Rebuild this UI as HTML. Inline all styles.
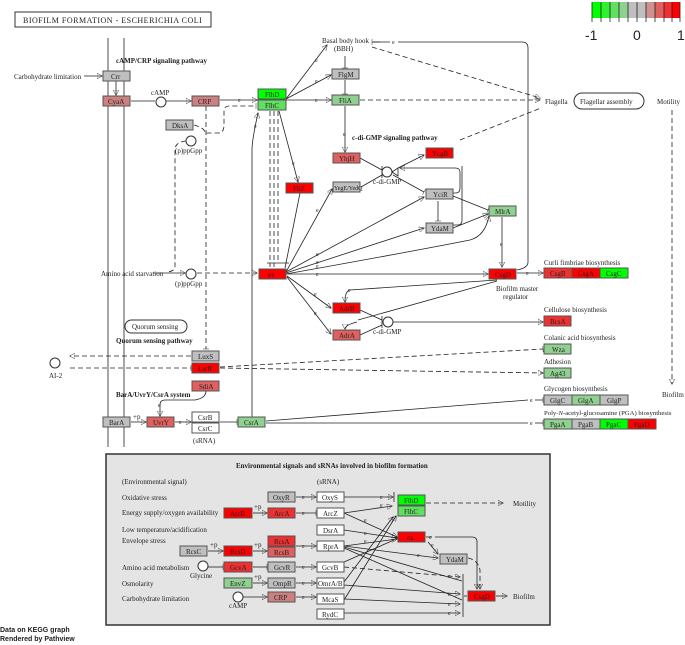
<!DOCTYPE html>
<html><head><meta charset="utf-8"><style>
html,body{margin:0;padding:0;background:#fff;}
svg{display:block;}
text{font-family:"Liberation Serif",serif;font-size:7px;fill:#222;}
.b{font-weight:bold;}
.s{font-family:"Liberation Sans",sans-serif;}
rect.n{stroke:#555;stroke-width:1;}
line,path,polyline{fill:none;stroke:#222;stroke-width:0.8;}
.d{stroke-dasharray:5,3;}
.e{font-size:6px;}
</style></head><body>
<svg width="685" height="645" viewBox="0 0 685 645" xmlns="http://www.w3.org/2000/svg">
<defs>
<marker id="a" viewBox="0 0 10 10" refX="9" refY="5" markerWidth="7" markerHeight="7" orient="auto"><path d="M0,0L10,5L0,10z" fill="#111" stroke="none"/></marker>
<marker id="t" viewBox="0 0 4 10" refX="2" refY="5" markerWidth="3" markerHeight="9" orient="auto"><path d="M2,0V10" stroke="#222" stroke-width="1.3"/></marker>
</defs>
<rect x="15" y="12" width="196" height="15" fill="#fff" stroke="#333" stroke-width="1"/>
<text x="23" y="23" style="font-size:8px;letter-spacing:0.5px">BIOFILM FORMATION - ESCHERICHIA COLI</text>
<g stroke="none">
<rect x="592" y="2" width="9" height="16" fill="#00ff00"/><rect x="601" y="2" width="9" height="16" fill="#30f030"/>
<rect x="610" y="2" width="9" height="16" fill="#60e060"/><rect x="619" y="2" width="9" height="16" fill="#90d090"/>
<rect x="628" y="2" width="9" height="16" fill="#bfbfbf"/><rect x="637" y="2" width="9" height="16" fill="#bfbfbf"/>
<rect x="646" y="2" width="9" height="16" fill="#d09090"/><rect x="655" y="2" width="9" height="16" fill="#e06060"/>
<rect x="664" y="2" width="8" height="16" fill="#f03030"/><rect x="672" y="2" width="8" height="16" fill="#ff0000"/>
</g>
<g stroke="#444" stroke-width="0.6"><line x1="592" y1="2" x2="592" y2="22"/><line x1="601" y1="2" x2="601" y2="22"/><line x1="610" y1="2" x2="610" y2="22"/><line x1="619" y1="2" x2="619" y2="22"/><line x1="628" y1="2" x2="628" y2="22"/><line x1="637" y1="2" x2="637" y2="22"/><line x1="646" y1="2" x2="646" y2="22"/><line x1="655" y1="2" x2="655" y2="22"/><line x1="664" y1="2" x2="664" y2="22"/><line x1="672" y1="2" x2="672" y2="22"/><line x1="680" y1="2" x2="680" y2="22"/></g>
<text class="s" x="585" y="40" style="font-size:14px">-1</text>
<text class="s" x="633" y="40" style="font-size:14px">0</text>
<text class="s" x="677" y="40" style="font-size:14px">1</text>

<g stroke="#888" stroke-width="3"><line x1="108" y1="38" x2="108" y2="447"/><line x1="124" y1="38" x2="124" y2="447"/></g>

<line x1="84" y1="76" x2="102" y2="76" marker-end="url(#a)"/>
<line x1="116" y1="81" x2="116" y2="95" marker-end="url(#a)"/>
<line x1="131" y1="101" x2="155" y2="101"/>
<line x1="166" y1="101" x2="191" y2="101" marker-end="url(#a)"/>
<line x1="220" y1="100" x2="257" y2="100" marker-end="url(#a)"/><text class="e" x="238" y="102">e</text>
<path class="d" d="M206,106V349" marker-end="url(#t)"/>
<path class="d" d="M194,125Q205,128 205,133H218Q224,133 224,125V111Q224,106 230,106H256" marker-end="url(#t)"/>
<path class="d" d="M186,141Q175,142 175,150V266Q175,271 168,272"/>
<line x1="153" y1="273" x2="185" y2="273" marker-end="url(#a)"/>
<line class="d" x1="197" y1="273" x2="257" y2="273" marker-end="url(#a)"/>
<path d="M252,417V150Q252,140 258,113" marker-end="url(#a)"/><text class="e" x="254" y="128">e</text>
<g class="d"><line x1="270" y1="111" x2="270" y2="267"/><line x1="274" y1="111" x2="274" y2="267"/><line x1="278" y1="111" x2="278" y2="263"/></g>
<line x1="267" y1="263" x2="289" y2="263"/>
<path d="M279,111L298,182" marker-end="url(#a)"/><text class="e" x="292" y="165">e</text>
<path d="M286,99L327,45" marker-end="url(#a)"/><text class="e" x="315" y="62">e</text>
<path d="M286,99L331,75" marker-end="url(#a)"/><text class="e" x="315" y="83">e</text>
<line x1="286" y1="100" x2="331" y2="100" marker-end="url(#a)"/><text class="e" x="315" y="102">e</text>
<line x1="345" y1="56" x2="345" y2="68" marker-end="url(#t)"/>
<line x1="345" y1="80" x2="345" y2="94" marker-end="url(#t)"/>
<line class="d" x1="360" y1="100" x2="540" y2="100" marker-end="url(#a)"/>
<line class="d" x1="372" y1="47" x2="540" y2="98" marker-end="url(#a)"/>
<line class="d" x1="460" y1="140" x2="541" y2="108"/>
<path d="M372,42H380" marker-start="url(#t)"/>
<path d="M373,42H390"/><text class="e" x="392" y="44">e</text><path d="M398,42H522Q528,42 528,48V262Q528,268 517,270"/>
<line x1="345" y1="106" x2="345" y2="152" marker-end="url(#a)"/><text class="e" x="343" y="136">e</text>
<text x="545" y="104">Flagella</text>
<rect x="574" y="93" width="70" height="16" rx="8" fill="#fff" stroke="#333"/>
<text x="580" y="104">Flagellar assembly</text>
<text x="657" y="104">Motility</text>
<line class="d" x1="672" y1="110" x2="672" y2="384" marker-end="url(#a)"/>
<text x="662" y="397">Biofilm</text>
<text x="322" y="43">Basal body hook</text><text x="334" y="51">(BBH)</text>
<text class="b" x="116" y="63">cAMP/CRP signaling pathway</text>
<text x="14" y="79">Carbohydrate limitation</text>
<text x="151" y="95">cAMP</text>
<circle cx="161" cy="102" r="5" fill="#fff" stroke="#333"/>
<circle cx="191" cy="141" r="5" fill="#fff" stroke="#333"/><text x="175" y="153">(p)ppGpp</text>
<text x="101" y="276">Amino acid starvation</text>
<circle cx="191" cy="274" r="5" fill="#fff" stroke="#333"/><text x="175" y="286">(p)ppGpp</text>
<text class="b" x="352" y="140">c-di-GMP signaling pathway</text>

<line x1="360" y1="158" x2="382" y2="170"/>
<line x1="361" y1="187" x2="382" y2="175"/>
<line x1="382" y1="166" x2="382" y2="178"/>
<circle cx="387" cy="172" r="5" fill="#fff" stroke="#333"/>
<path d="M392,172L398,168V176Z" fill="#fff"/>
<line x1="398" y1="168" x2="424" y2="155" marker-end="url(#a)"/>
<line x1="393" y1="175" x2="424" y2="192" marker-end="url(#t)"/>
<path d="M453,193H456Q460,193 460,188V172Q460,168 455,168H400" marker-end="url(#a)"/>
<path d="M453,225H458Q462,225 462,220V166"/>
<line x1="438" y1="201" x2="438" y2="221" marker-end="url(#t)"/>
<line x1="453" y1="196" x2="488" y2="210" marker-end="url(#t)"/>
<line x1="453" y1="228" x2="488" y2="214" marker-end="url(#a)"/>
<line x1="502" y1="217" x2="502" y2="267" marker-end="url(#a)"/><text class="e" x="500" y="246">e</text>
<text x="373" y="184">c-di-GMP</text>
<path d="M286,272L332,189" marker-end="url(#a)"/><text class="e" x="316" y="212">e</text>
<path d="M286,272L424,197" marker-end="url(#a)"/><text class="e" x="316" y="256">e</text>
<path d="M286,273L424,228" marker-end="url(#a)"/><text class="e" x="316" y="264">e</text>
<path d="M286,274Q420,250 470,240Q485,236 489,216" marker-end="url(#a)"/><text class="e" x="316" y="268">e</text>
<line x1="287" y1="274" x2="488" y2="274" marker-end="url(#a)"/><text class="e" x="316" y="276">e</text>
<line x1="287" y1="276" x2="331" y2="308" marker-end="url(#a)"/><text class="e" x="314" y="296">e</text>
<line x1="287" y1="277" x2="331" y2="334" marker-end="url(#a)"/><text class="e" x="314" y="315">e</text>
<line x1="300" y1="193" x2="285" y2="268"/>
<path d="M497,280L350,290Q345,291 345,302" marker-end="url(#a)"/><text class="e" x="348" y="292">e</text>
<line x1="497" y1="281" x2="358" y2="320"/>
<path d="M357,322Q345,325 345,329" marker-end="url(#a)"/>
<line x1="360" y1="310" x2="382" y2="320"/>
<line x1="360" y1="335" x2="382" y2="325"/>
<line x1="382" y1="316" x2="382" y2="328"/>
<circle cx="388" cy="322" r="5" fill="#fff" stroke="#333"/>
<line x1="393" y1="322" x2="543" y2="322" marker-end="url(#a)"/>
<text x="373" y="334">c-di-GMP</text>
<line x1="517" y1="273" x2="543" y2="273" marker-end="url(#a)"/><text class="e" x="526" y="275">e</text>
<text x="496" y="291">Biofilm master</text><text x="503" y="299">regulator</text>
<text x="544" y="265">Curli fimbriae biosynthesis</text>
<text x="544" y="312">Cellulose biosynthesis</text>
<text x="544" y="340">Colanic acid biosynthesis</text>
<text x="544" y="364">Adhesion</text>
<text x="544" y="391">Glycogen biosynthesis</text>
<text x="544" y="415" style="font-size:6.7px">Poly-<tspan font-style="italic">N</tspan>-acetyl-glucosamine (PGA) biosynthesis</text>
<line class="d" x1="220" y1="367" x2="543" y2="349" marker-end="url(#t)"/>
<line class="d" x1="220" y1="368" x2="543" y2="373" marker-end="url(#a)"/>
<line x1="266" y1="421" x2="528" y2="400"/><text class="e" x="530" y="402">e</text><line x1="535" y1="400" x2="543" y2="400" marker-end="url(#t)"/>
<line x1="266" y1="423" x2="528" y2="423"/><text class="e" x="530" y="425">e</text><line x1="535" y1="423" x2="543" y2="423" marker-end="url(#t)"/>
<rect x="125" y="320" width="62" height="13" rx="6.5" fill="#fff" stroke="#333"/>
<text x="132" y="329">Quorum sensing</text>
<text class="b" x="116" y="343">Quorum sensing pathway</text>
<line class="d" x1="191" y1="356" x2="70" y2="356" marker-end="url(#a)"/>
<line class="d" x1="70" y1="368" x2="191" y2="368" marker-end="url(#t)"/>
<circle cx="55" cy="363" r="5" fill="#fff" stroke="#333"/><text x="49" y="378">AI-2</text>
<text class="b" x="116" y="397">BarA/UvrY/CsrA system</text>
<path d="M206,391Q206,398 195,400H165Q160,400 160,405V416" marker-end="url(#a)"/><text class="e" x="158" y="407">e</text>
<line x1="131" y1="422" x2="146" y2="422" marker-end="url(#a)"/><text x="133" y="419">+p</text>
<line x1="175" y1="422" x2="191" y2="422" marker-end="url(#a)"/><text class="e" x="179" y="424">e</text>
<line x1="220" y1="422" x2="237" y2="422" marker-end="url(#t)"/>
<text x="193" y="443">(sRNA)</text>

<g>
<rect class="n" x="103" y="71" width="27" height="10" fill="#bfbfbf"/><text x="111" y="79">Crr</text>
<rect class="n" x="103" y="96" width="27" height="10" fill="#cc8080"/><text x="108" y="104">CyaA</text>
<rect class="n" x="192" y="96" width="27" height="10" fill="#cc8080"/><text x="198" y="104">CRP</text>
<rect class="n" x="166" y="120" width="27" height="10" fill="#bfbfbf"/><text x="172" y="128">DksA</text>
<rect class="n" x="258" y="89" width="28" height="10" fill="#00ff00"/><text x="265" y="97">FlhD</text>
<rect class="n" x="258" y="100" width="28" height="10" fill="#60e060"/><text x="265" y="108">FlhC</text>
<rect class="n" x="332" y="69" width="27" height="10" fill="#bfbfbf"/><text x="338" y="77">FlgM</text>
<rect class="n" x="332" y="95" width="27" height="10" fill="#90d090"/><text x="339" y="103">FliA</text>
<rect class="n" x="333" y="153" width="27" height="10" fill="#e06060"/><text x="339" y="161">YhjH</text>
<rect class="n" x="426" y="148" width="27" height="10" fill="#ff0000"/><text x="432" y="156">YcgR</text>
<rect class="n" x="286" y="183" width="27" height="10" fill="#ff0000"/><text x="293" y="191">FliZ</text>
<rect class="n" x="333" y="182" width="27" height="10" fill="#bfbfbf"/><text x="334" y="190" style="font-size:6px">YegE/YedQ</text>
<rect class="n" x="426" y="189" width="27" height="10" fill="#bfbfbf"/><text x="433" y="197">YciR</text>
<rect class="n" x="426" y="223" width="27" height="10" fill="#bfbfbf"/><text x="431" y="231">YdaM</text>
<rect class="n" x="489" y="206" width="27" height="10" fill="#90d090"/><text x="495" y="214">MlrA</text>
<rect class="n" x="259" y="269" width="27" height="10" fill="#ff0000"/><text x="268" y="277">σs</text>
<rect class="n" x="489" y="269" width="27" height="10" fill="#ff0000"/><text x="495" y="277">CsgD</text>
<rect class="n" x="333" y="303" width="27" height="10" fill="#ff0000"/><text x="339" y="311">AdrB</text>
<rect class="n" x="333" y="330" width="27" height="10" fill="#e06060"/><text x="339" y="338">AdrA</text>
<rect class="n" x="544" y="268" width="28" height="10" fill="#f03030"/><text x="550" y="276">CsgB</text>
<rect class="n" x="572" y="268" width="28" height="10" fill="#ff0000"/><text x="578" y="276">CsgA</text>
<rect class="n" x="600" y="268" width="28" height="10" fill="#00ff00"/><text x="606" y="276">CsgC</text>
<rect class="n" x="544" y="316" width="27" height="10" fill="#f03030"/><text x="550" y="324">BcsA</text>
<rect class="n" x="544" y="344" width="27" height="10" fill="#90d090"/><text x="552" y="352">Wza</text>
<rect class="n" x="544" y="368" width="27" height="10" fill="#90d090"/><text x="550" y="376">Ag43</text>
<rect class="n" x="544" y="395" width="28" height="10" fill="#bfbfbf"/><text x="550" y="403">GlgC</text>
<rect class="n" x="572" y="395" width="28" height="10" fill="#90d090"/><text x="578" y="403">GlgA</text>
<rect class="n" x="600" y="395" width="28" height="10" fill="#bfbfbf"/><text x="607" y="403">GlgP</text>
<rect class="n" x="544" y="419" width="28" height="10" fill="#90d090"/><text x="550" y="427">PgaA</text>
<rect class="n" x="572" y="419" width="28" height="10" fill="#bfbfbf"/><text x="578" y="427">PgaB</text>
<rect class="n" x="600" y="419" width="28" height="10" fill="#00ff00"/><text x="606" y="427">PgaC</text>
<rect class="n" x="628" y="419" width="28" height="10" fill="#ff0000"/><text x="634" y="427">PgaD</text>
<rect class="n" x="192" y="351" width="27" height="10" fill="#bfbfbf"/><text x="198" y="359">LuxS</text>
<rect class="n" x="192" y="363" width="27" height="10" fill="#ff0000"/><text x="198" y="371">LsrR</text>
<rect class="n" x="192" y="381" width="27" height="10" fill="#e06060"/><text x="199" y="389">SdiA</text>
<rect class="n" x="103" y="417" width="27" height="10" fill="#bfbfbf"/><text x="109" y="425">BarA</text>
<rect class="n" x="147" y="417" width="27" height="10" fill="#e06060"/><text x="153" y="425">UvrY</text>
<rect class="n" x="192" y="412" width="27" height="10" fill="#fff"/><text x="198" y="420">CsrB</text>
<rect class="n" x="192" y="423" width="27" height="10" fill="#fff"/><text x="198" y="431">CsrC</text>
<rect class="n" x="238" y="417" width="27" height="10" fill="#90d090"/><text x="244" y="425">CsrA</text>
</g>

<rect x="106" y="454" width="444" height="171" fill="#e4e4e4" stroke="#333" stroke-width="1.5"/>
<text class="b" x="236" y="468">Environmental signals and sRNAs involved in biofilm formation</text>
<text x="122" y="484">(Environmental signal)</text><text x="317" y="484">(sRNA)</text>
<text x="122" y="500">Oxidative stress</text>
<text x="122" y="515">Energy supply/oxygen availability</text>
<text x="122" y="532">Low temperature/acidification</text>
<text x="122" y="543">Envelope stress</text>
<text x="122" y="570">Amino acid metabolism</text>
<text x="122" y="586">Osmolarity</text>
<text x="122" y="601">Carbohydrate limitation</text>
<line x1="296" y1="497" x2="316" y2="497" marker-end="url(#a)"/><text class="e" x="302" y="499">e</text>
<line x1="253" y1="513" x2="267" y2="513" marker-end="url(#a)"/><text x="254" y="509">+p</text>
<line x1="296" y1="513" x2="316" y2="513" marker-end="url(#t)"/><text class="e" x="302" y="515">e</text>
<line x1="208" y1="551" x2="223" y2="551" marker-end="url(#a)"/><text x="210" y="547">+p</text>
<line x1="253" y1="551" x2="267" y2="551" marker-end="url(#a)"/><text x="254" y="547">+p</text>
<line x1="296" y1="546" x2="316" y2="546" marker-end="url(#a)"/><text class="e" x="302" y="548">e</text>
<line x1="208" y1="567" x2="223" y2="567" marker-end="url(#t)"/>
<line x1="253" y1="567" x2="267" y2="567" marker-end="url(#t)"/>
<line x1="296" y1="567" x2="316" y2="567" marker-end="url(#a)"/><text class="e" x="302" y="569">e</text>
<line x1="253" y1="583" x2="267" y2="583" marker-end="url(#a)"/><text x="254" y="579">+p</text>
<line x1="296" y1="583" x2="316" y2="583" marker-end="url(#a)"/><text class="e" x="302" y="585">e</text>
<line x1="243" y1="597" x2="267" y2="597" marker-end="url(#a)"/>
<line x1="296" y1="597" x2="316" y2="597" marker-end="url(#a)"/><text class="e" x="302" y="599">e</text>
<line x1="344" y1="497" x2="388" y2="497"/><text class="e" x="380" y="499">e</text><line x1="387" y1="497" x2="393" y2="497" marker-end="url(#a)"/><line x1="394" y1="492" x2="394" y2="502"/>
<line x1="344" y1="513" x2="392" y2="506" marker-end="url(#a)"/><text class="e" x="380" y="507">e</text>
<line x1="344" y1="513" x2="397" y2="537" marker-end="url(#a)"/><text class="e" x="364" y="522">e</text>
<line x1="344" y1="530" x2="397" y2="538" marker-end="url(#a)"/><text class="e" x="364" y="535">e</text>
<line x1="344" y1="546" x2="397" y2="539" marker-end="url(#a)"/><text class="e" x="364" y="543">e</text>
<line x1="344" y1="546" x2="438" y2="558" marker-end="url(#a)"/><text class="e" x="417" y="557">e</text>
<line x1="344" y1="547" x2="462" y2="581"/><line x1="344" y1="548" x2="462" y2="600"/>
<line x1="344" y1="582" x2="393" y2="517" marker-end="url(#a)"/><line x1="344" y1="600" x2="396" y2="516" marker-end="url(#a)"/>
<line x1="344" y1="562" x2="394" y2="540"/>
<line class="d" x1="344" y1="567" x2="460" y2="577" marker-end="url(#a)"/><text class="e" x="448" y="578">e</text>
<line x1="344" y1="585" x2="460" y2="594" marker-end="url(#a)"/><text class="e" x="448" y="596">e</text>
<line x1="344" y1="599" x2="460" y2="604" marker-end="url(#a)"/><text class="e" x="448" y="606">e</text>
<line x1="344" y1="613" x2="460" y2="613" marker-end="url(#a)"/><text class="e" x="448" y="615">e</text>
<line x1="463" y1="574" x2="463" y2="617"/>
<line x1="464" y1="596" x2="467" y2="596"/>
<line class="d" x1="426" y1="503" x2="503" y2="503" marker-end="url(#a)"/><text x="513" y="506">Motility</text>
<path d="M426,537H432"/><text class="e" x="429" y="539">e</text><path d="M435,537H472Q477,537 477,542V589" marker-end="url(#a)"/>
<line x1="428" y1="542" x2="438" y2="554" marker-end="url(#a)"/><text class="e" x="431" y="547">e</text>
<path class="d" d="M468,558Q478,560 480,570V589" marker-end="url(#a)"/>
<line x1="496" y1="596" x2="507" y2="596" marker-end="url(#a)"/><text x="513" y="599">Biofilm</text>
<circle cx="203" cy="566" r="5" fill="#fff" stroke="#333"/><text x="190" y="578">Glycine</text>
<circle cx="238" cy="597" r="5" fill="#fff" stroke="#333"/><text x="229" y="608">cAMP</text>
<g>
<rect class="n" x="268" y="492" width="27" height="10" fill="#bfbfbf"/><text x="273" y="500">OxyR</text>
<rect class="n" x="224" y="508" width="28" height="10" fill="#ff0000"/><text x="230" y="516">ArcB</text>
<rect class="n" x="268" y="508" width="27" height="10" fill="#f03030"/><text x="274" y="516">ArcA</text>
<rect class="n" x="268" y="536" width="27" height="10" fill="#f03030"/><text x="274" y="544">RcsA</text>
<rect class="n" x="268" y="547" width="27" height="10" fill="#e06060"/><text x="274" y="555">RcsB</text>
<rect class="n" x="180" y="546" width="27" height="10" fill="#bfbfbf"/><text x="186" y="554">RcsC</text>
<rect class="n" x="224" y="546" width="28" height="10" fill="#ff0000"/><text x="230" y="554">RcsD</text>
<rect class="n" x="224" y="562" width="28" height="10" fill="#f03030"/><text x="230" y="570">GcvA</text>
<rect class="n" x="268" y="562" width="27" height="10" fill="#bfbfbf"/><text x="274" y="570">GcvR</text>
<rect class="n" x="224" y="578" width="28" height="10" fill="#90d090"/><text x="230" y="586">EnvZ</text>
<rect class="n" x="268" y="578" width="27" height="10" fill="#bfbfbf"/><text x="273" y="586">OmpR</text>
<rect class="n" x="268" y="592" width="27" height="10" fill="#cc8080"/><text x="274" y="600">CRP</text>
<rect class="n" x="317" y="492" width="27" height="10" fill="#fff"/><text x="322" y="500">OxyS</text>
<rect class="n" x="317" y="508" width="27" height="10" fill="#fff"/><text x="323" y="516">ArcZ</text>
<rect class="n" x="317" y="525" width="27" height="10" fill="#fff"/><text x="323" y="533">DsrA</text>
<rect class="n" x="317" y="541" width="27" height="10" fill="#fff"/><text x="323" y="549">RprA</text>
<rect class="n" x="317" y="562" width="27" height="10" fill="#fff"/><text x="322" y="570">GcvB</text>
<rect class="n" x="317" y="578" width="27" height="10" fill="#fff"/><text x="318" y="586">OmrA/B</text>
<rect class="n" x="317" y="594" width="27" height="10" fill="#fff"/><text x="322" y="602">McaS</text>
<rect class="n" x="317" y="609" width="27" height="10" fill="#fff"/><text x="322" y="617">RydC</text>
<rect class="n" x="398" y="495" width="27" height="10" fill="#00ff00"/><text x="404" y="503">FlhD</text>
<rect class="n" x="398" y="506" width="27" height="10" fill="#60e060"/><text x="404" y="514">FlhC</text>
<rect class="n" x="398" y="532" width="27" height="10" fill="#ff0000"/><text x="407" y="540">σs</text>
<rect class="n" x="440" y="554" width="27" height="10" fill="#bfbfbf"/><text x="446" y="562">YdaM</text>
<rect class="n" x="468" y="591" width="27" height="10" fill="#ff0000"/><text x="474" y="599">CsgD</text>
</g>
<text class="s b" x="0" y="632" style="font-size:7px">Data on KEGG graph</text>
<text class="s b" x="0" y="641" style="font-size:7px">Rendered by Pathview</text>
</svg>
</body></html>
